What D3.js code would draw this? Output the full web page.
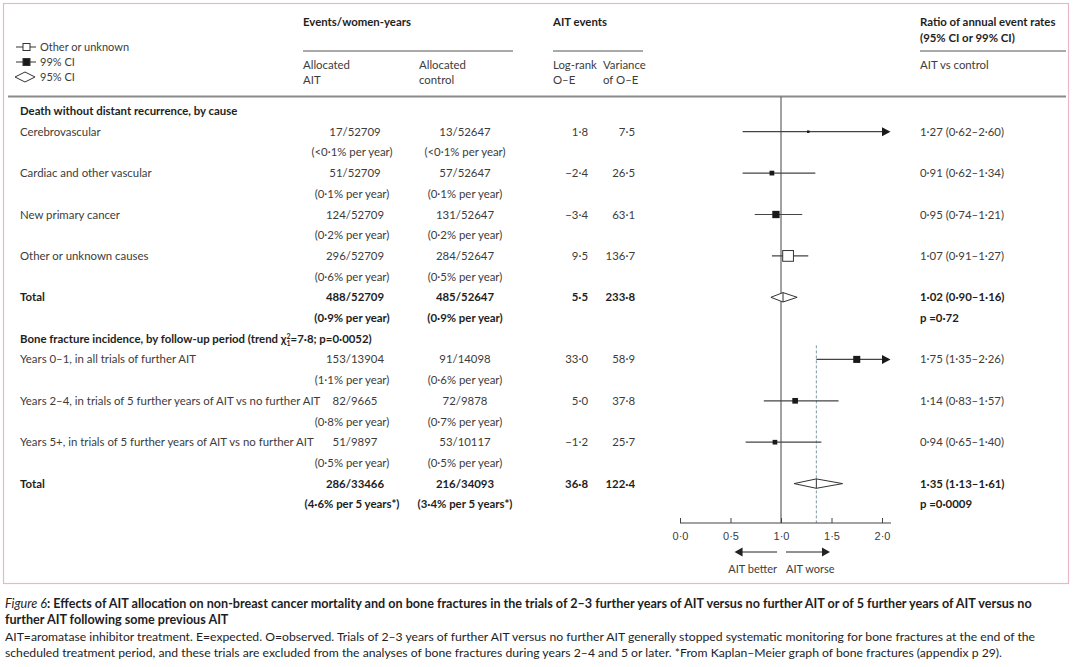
<!DOCTYPE html>
<meta charset="utf-8">
<style>
body { margin: 0; background: #fff; }
svg { font-family: Lato, "Open Sans", sans-serif; }
text { fill: #3c3c3c; }
.b { font-weight: bold; fill: #1e1e1e; }
.cap { fill: #1e1e1e; }
</style>
<body>
<div id="chart"></div>
<script src="https://d3js.org/d3.v7.min.js"></script>
<script>

// section headings
var groupTitles = ["Death without distant recurrence, by cause", "Bone fracture incidence, by follow-up period (trend "];
var trendTail = "=7·8; p=0·0052)";

// rows
var rowGroup = [0, 0, 0, 0, 0, 1, 1, 1, 1];
var rowLabels = ["Cerebrovascular", "Cardiac and other vascular", "New primary cancer", "Other or unknown causes", "Total",
  "Years 0–1, in all trials of further AIT", "Years 2–4, in trials of 5 further years of AIT vs no further AIT",
  "Years 5+, in trials of 5 further years of AIT vs no further AIT", "Total"];
var aitEvents = ["17/52709", "51/52709", "124/52709", "296/52709", "488/52709", "153/13904", "82/9665", "51/9897", "286/33466"];
var ctrlEvents = ["13/52647", "57/52647", "131/52647", "284/52647", "485/52647", "91/14098", "72/9878", "53/10117", "216/34093"];
var aitRates = ["(<0·1% per year)", "(0·1% per year)", "(0·2% per year)", "(0·6% per year)", "(0·9% per year)",
  "(1·1% per year)", "(0·8% per year)", "(0·5% per year)", "(4·6% per 5 years*)"];
var ctrlRates = ["(<0·1% per year)", "(0·1% per year)", "(0·2% per year)", "(0·5% per year)", "(0·9% per year)",
  "(0·6% per year)", "(0·7% per year)", "(0·5% per year)", "(3·4% per 5 years*)"];
var oMinusE = [1.8, -2.4, -3.4, 9.5, 5.5, 33.0, 5.0, -1.2, 36.8];
var variance = [7.5, 26.5, 63.1, 136.7, 233.8, 58.9, 37.8, 25.7, 122.4];
var ratio = [1.27, 0.91, 0.95, 1.07, 1.02, 1.75, 1.14, 0.94, 1.35];
var ciLow = [0.62, 0.62, 0.74, 0.91, 0.90, 1.35, 0.83, 0.65, 1.13];
var ciHigh = [2.60, 1.34, 1.21, 1.27, 1.16, 2.26, 1.57, 1.40, 1.61];
var markType = ["filled", "filled", "filled", "open", "diamond", "filled", "filled", "filled", "diamond"];
var pValues = [null, null, null, null, "p =0·72", null, null, null, "p =0·0009"];

var axisTicks = [0, 0.5, 1, 1.5, 2];
var legendLabels = ["Other or unknown", "99% CI", "95% CI"];

var captionTitle = ["Effects of AIT allocation on non-breast cancer mortality and on bone fractures in the trials of 2–3 further years of AIT versus no further AIT or of 5 further years of AIT versus no",
  "further AIT following some previous AIT"];
var captionBody = ["AIT=aromatase inhibitor treatment. E=expected. O=observed. Trials of 2–3 years of further AIT versus no further AIT generally stopped systematic monitoring for bone fractures at the end of the",
  "scheduled treatment period, and these trials are excluded from the analyses of bone fractures during years 2–4 and 5 or later. *From Kaplan–Meier graph of bone fractures (appendix p 29)."];

var W = 1080, H = 667;
var svg = d3.select("#chart").append("svg").attr("width", W).attr("height", H);

function dot(s) { return s.replace(/\./g, "·").replace(/-/g, "–"); }
var f1 = function (v) { return dot(d3.format(".1f")(v)); };
var f2 = function (v) { return dot(d3.format(".2f")(v)); };

// pink frame
svg.append("rect").attr("x", 3.5).attr("y", 3.5).attr("width", 1065).attr("height", 580)
  .attr("fill", "none").attr("stroke", "#e9b7c6").attr("stroke-width", 1.2);

var x = d3.scaleLinear().domain([0, 2]).range([680, 882]);
var line = d3.scaleLinear().domain([0, 1]).range([111, 131.7]); // text line index -> centre y
var fs = 11.4;

// header
var hdr = svg.append("g").attr("font-size", fs);
hdr.append("text").attr("class", "b").attr("x", 303).attr("y", 26).text("Events/women-years");
hdr.append("text").attr("class", "b").attr("x", 553).attr("y", 26).text("AIT events");
hdr.append("text").attr("class", "b").attr("x", 920).attr("y", 26).text("Ratio of annual event rates");
hdr.append("text").attr("class", "b").attr("x", 920).attr("y", 42).text("(95% CI or 99% CI)");
[[303, 513], [553, 643], [920, 1066]].forEach(function (s) {
  hdr.append("line").attr("x1", s[0]).attr("x2", s[1]).attr("y1", 51).attr("y2", 51)
    .attr("stroke", "#555").attr("stroke-width", 1);
});
[["Allocated", "AIT", 303], ["Allocated", "control", 419], ["Log-rank", "O–E", 553], ["Variance", "of O–E", 603]].forEach(function (h) {
  hdr.append("text").attr("x", h[2]).attr("y", 69).text(h[0]);
  hdr.append("text").attr("x", h[2]).attr("y", 84).text(h[1]);
});
hdr.append("text").attr("x", 920).attr("y", 69).text("AIT vs control");
svg.append("line").attr("x1", 8).attr("x2", 1066).attr("y1", 96.5).attr("y2", 96.5)
  .attr("stroke", "#8a8a8a").attr("stroke-width", 2);

// legend
var leg = svg.append("g").attr("font-size", 11);
legendLabels.forEach(function (t, i) {
  var y = 47 + i * 15;
  leg.append("text").attr("x", 40).attr("y", y + 4).text(t);
  if (i < 2) {
    leg.append("line").attr("x1", 16).attr("x2", 36).attr("y1", y).attr("y2", y).attr("stroke", "#333");
    leg.append("rect").attr("x", 23).attr("y", y - 3.5).attr("width", 7).attr("height", 7)
      .attr("fill", i === 0 ? "#fff" : "#1a1a1a").attr("stroke", "#333");
  } else {
    leg.append("path").attr("d", "M15," + y + "L25," + (y - 5) + "L35," + y + "L25," + (y + 5) + "Z")
      .attr("fill", "#fff").attr("stroke", "#333");
  }
});

// table rows
var tbl = svg.append("g").attr("font-size", fs);
var rowLine = [];
var li = 0;
rowLabels.forEach(function (lab, i) {
  if (i === 0 || rowGroup[i] !== rowGroup[i - 1]) {
    var g = rowGroup[i];
    var t = tbl.append("text").attr("class", "b").attr("x", 20).attr("y", line(li) + 4).text(groupTitles[g]);
    if (g === 1) {
      t.append("tspan").text("χ");
      t.append("tspan").attr("font-size", 7).attr("dy", -4).text("2");
      t.append("tspan").attr("font-size", 7).attr("dx", -4).attr("dy", 7).text("1");
      t.append("tspan").attr("dy", -3).text(trendTail);
    }
    li++;
  }
  rowLine.push(li);
  li += 2;
});

var fmtRatio = function (i) { return f2(ratio[i]) + " (" + f2(ciLow[i]) + "–" + f2(ciHigh[i]) + ")"; };

rowLabels.forEach(function (lab, i) {
  var y0 = line(rowLine[i]), y1 = line(rowLine[i] + 1);
  var cls = markType[i] === "diamond" ? "b" : null;
  var lt = tbl.append("text").attr("class", cls).attr("x", 20).attr("y", y0 + 4).text(lab);
  var labEnd = 20 + lt.node().getComputedTextLength();
  var ev = tbl.append("text").attr("class", cls).attr("x", 355).attr("y", y0 + 4)
    .attr("text-anchor", "middle").text(aitEvents[i]);
  var w = ev.node().getComputedTextLength();
  if (355 - w / 2 < labEnd + 7) ev.attr("text-anchor", "start").attr("x", labEnd + 7);
  tbl.append("text").attr("class", cls).attr("x", 352).attr("y", y1 + 4).attr("text-anchor", "middle").text(aitRates[i]);
  tbl.append("text").attr("class", cls).attr("x", 465).attr("y", y0 + 4).attr("text-anchor", "middle").text(ctrlEvents[i]);
  tbl.append("text").attr("class", cls).attr("x", 465).attr("y", y1 + 4).attr("text-anchor", "middle").text(ctrlRates[i]);
  tbl.append("text").attr("class", cls).attr("x", 588).attr("y", y0 + 4).attr("text-anchor", "end").text(f1(oMinusE[i]));
  tbl.append("text").attr("class", cls).attr("x", 635).attr("y", y0 + 4).attr("text-anchor", "end").text(f1(variance[i]));
  tbl.append("text").attr("class", cls).attr("x", 920).attr("y", y0 + 4).text(fmtRatio(i));
  if (pValues[i]) tbl.append("text").attr("class", "b").attr("x", 920).attr("y", y1 + 4).text(pValues[i]);
});

// forest plot
var axisY = 523;
var plot = svg.append("g");
plot.append("line").attr("x1", x(1)).attr("x2", x(1)).attr("y1", 97).attr("y2", axisY)
  .attr("stroke", "#444").attr("stroke-width", 1);

// dashed line at overall bone fracture ratio
var boneTotal = rowGroup.lastIndexOf(1);
plot.append("line").attr("x1", x(ratio[boneTotal])).attr("x2", x(ratio[boneTotal]))
  .attr("y1", line(rowLine[5]) - 14).attr("y2", axisY)
  .attr("stroke", "#7f9aa6").attr("stroke-width", 1).attr("stroke-dasharray", "3,2");

rowLabels.forEach(function (lab, i) {
  var y = line(rowLine[i]);
  var hiX = Math.min(x(ciHigh[i]), x(2));
  if (markType[i] === "diamond") {
    plot.append("path")
      .attr("d", "M" + x(ciLow[i]) + "," + y + "L" + x(ratio[i]) + "," + (y - 4.7) + "L" + x(ciHigh[i]) + "," + y +
        "L" + x(ratio[i]) + "," + (y + 4.7) + "Z")
      .attr("fill", "#fff").attr("stroke", "#333").attr("stroke-width", 1);
    plot.append("line").attr("x1", x(ratio[i])).attr("x2", x(ratio[i])).attr("y1", y - 4.7).attr("y2", y + 4.7)
      .attr("stroke", "#333");
    return;
  }
  plot.append("line").attr("x1", x(ciLow[i])).attr("x2", hiX).attr("y1", y).attr("y2", y)
    .attr("stroke", "#444").attr("stroke-width", 1.2);
  if (ciHigh[i] > 2) {
    plot.append("path").attr("d", "M" + x(2) + "," + (y - 4.5) + "L" + (x(2) + 8.5) + "," + y + "L" + x(2) + "," + (y + 4.5) + "Z")
      .attr("fill", "#1a1a1a");
  }
  var s = 0.92 * Math.sqrt(variance[i]);
  plot.append("rect").attr("x", x(ratio[i]) - s / 2).attr("y", y - s / 2).attr("width", s).attr("height", s)
    .attr("fill", markType[i] === "open" ? "#fff" : "#1a1a1a")
    .attr("stroke", markType[i] === "open" ? "#333" : "none");
});

// axis
var ax = svg.append("g").attr("transform", "translate(0," + axisY + ")")
  .call(d3.axisBottom(x).tickValues(axisTicks).tickSizeInner(-5).tickSizeOuter(0).tickPadding(9)
    .tickFormat(function (d) { return f1(d); }));
ax.select(".domain").remove();
ax.selectAll(".tick line").attr("stroke", "#444");
ax.selectAll(".tick text").attr("font-family", null).attr("font-size", 11).attr("fill", "#3c3c3c");
ax.append("line").attr("x1", x(0)).attr("x2", x(2) + 9).attr("stroke", "#444");

// direction arrows
var ay = 552;
svg.append("line").attr("x1", x(1) - 4).attr("x2", x(0.54) + 7).attr("y1", ay).attr("y2", ay).attr("stroke", "#222");
svg.append("path").attr("d", "M" + x(0.54) + "," + ay + "l8,-4.5v9Z").attr("fill", "#222");
svg.append("line").attr("x1", x(1) + 5).attr("x2", x(1.485) - 7).attr("y1", ay).attr("y2", ay).attr("stroke", "#222");
svg.append("path").attr("d", "M" + x(1.485) + "," + ay + "l-8,-4.5v9Z").attr("fill", "#222");
svg.append("text").attr("font-size", 11).attr("x", x(1) - 4).attr("y", 573).attr("text-anchor", "end").text("AIT better");
svg.append("text").attr("font-size", 11).attr("x", x(1) + 5).attr("y", 573).text("AIT worse");

// caption
var cap = svg.append("g").attr("font-size", 12.6);
var c0 = cap.append("text").attr("class", "cap").attr("x", 5).attr("y", 608);
c0.append("tspan").attr("font-style", "italic").text("Figure 6");
c0.append("tspan").attr("font-weight", "bold").text(": " + captionTitle[0]);
cap.append("text").attr("class", "cap").attr("font-weight", "bold").attr("x", 5).attr("y", 624).text(captionTitle[1]);
captionBody.forEach(function (t, i) {
  cap.append("text").attr("class", "cap").attr("font-size", 12.2).attr("x", 5).attr("y", 641 + i * 16).text(t);
});

</script>
